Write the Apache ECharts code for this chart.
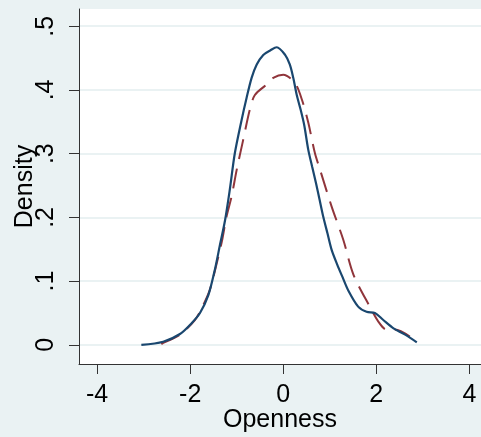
<!DOCTYPE html>
<html>
<head>
<meta charset="utf-8">
<script src="https://cdn.jsdelivr.net/npm/echarts@6/dist/echarts.min.js"></script>
<style>
html,body{margin:0;padding:0;background:#eaf2f3;}
#c{width:481px;height:437px;}
</style>
</head>
<body>
<div id="c"></div>
<script>
// Kernel density of Openness (solid, navy)
const blueX = [-3.05,-2.58,-2.22,-1.97,-1.79,-1.61,-1.47,-1.36,-1.25,-1.15,-1.04,-0.895,-0.79,-0.68,-0.57,-0.43,-0.28,-0.14,0.04,0.14,0.215,0.29,0.37,0.45,0.538,0.62,0.703,0.78,0.86,0.95,1.04,1.16,1.27,1.40,1.61,1.79,1.97,2.15,2.37,2.62,2.87];
const blueY = [0.000,0.005,0.017,0.034,0.050,0.078,0.118,0.157,0.196,0.243,0.301,0.353,0.387,0.419,0.440,0.455,0.462,0.467,0.455,0.440,0.419,0.392,0.370,0.345,0.306,0.280,0.254,0.228,0.201,0.175,0.149,0.126,0.107,0.085,0.060,0.052,0.050,0.039,0.026,0.016,0.004];
// Comparison density (dashed, maroon)
const redX = [-2.62,-2.58,-2.22,-1.90,-1.75,-1.58,-1.43,-1.32,-1.22,-1.11,-1.00,-0.86,-0.72,-0.61,-0.37,-0.215,0.0,0.25,0.40,0.54,0.68,0.79,1.04,1.29,1.51,1.86,2.04,2.22,2.40,2.72];
const redY = [0.001,0.003,0.016,0.039,0.058,0.086,0.128,0.162,0.201,0.233,0.275,0.322,0.369,0.392,0.408,0.419,0.424,0.411,0.385,0.348,0.301,0.275,0.217,0.165,0.110,0.060,0.037,0.024,0.024,0.013];
const xTicks = [-4,-2,0,2,4];
const yTicks = [0,0.1,0.2,0.3,0.4,0.5];
const yTickLabels = ['0','.1','.2','.3','.4','.5'];

const chart = echarts.init(document.getElementById('c'), null, {renderer:'canvas'});
const font = 'Liberation Sans, Arial, sans-serif';
chart.setOption({
  backgroundColor:'#eaf2f3',
  animation:false,
  grid:{left:79,right:0,top:9,bottom:73,show:true,backgroundColor:'#ffffff',borderWidth:0,
        containLabel:false,outerBoundsMode:'none'},
  xAxis:{
    type:'value',min:-4.39,max:4.25,
    name:'Openness',nameLocation:'middle',nameGap:44,nameMoveOverlap:false,
    nameTextStyle:{fontFamily:font,fontSize:25,color:'#000'},
    axisLine:{onZero:false,lineStyle:{color:'#333',width:1}},
    axisTick:{customValues:xTicks,length:10,lineStyle:{color:'#333'}},
    axisLabel:{customValues:xTicks,margin:19,fontFamily:font,fontSize:25,color:'#000'},
    splitLine:{show:false}
  },
  yAxis:{
    type:'value',min:-0.03,max:0.527,
    name:'Density',nameLocation:'middle',nameGap:41,nameMoveOverlap:false,
    nameTextStyle:{fontFamily:font,fontSize:25,color:'#000'},
    axisLine:{show:true,onZero:false,lineStyle:{color:'#333',width:1}},
    axisTick:{show:true,customValues:yTicks,length:10,lineStyle:{color:'#333'}},
    axisLabel:{customValues:yTicks,rotate:90,margin:20,fontFamily:font,fontSize:25,color:'#000',
      formatter:function(v){const i=yTicks.findIndex(t=>Math.abs(t-v)<1e-9);return i>=0?yTickLabels[i]:'';}},
    splitLine:{show:true,lineStyle:{color:'#eaf2f3',width:2}}
  },
  series:[
    {type:'line',data:blueX.map((x,i)=>[x,blueY[i]]),showSymbol:false,smooth:0.3,
     lineStyle:{color:'#1a476f',width:2.2},z:3},
    {type:'line',data:redX.map((x,i)=>[x,redY[i]]),showSymbol:false,smooth:0.3,
     lineStyle:{color:'#90353b',width:2,type:[20,10]},z:2}
  ]
});
</script>
</body>
</html>
